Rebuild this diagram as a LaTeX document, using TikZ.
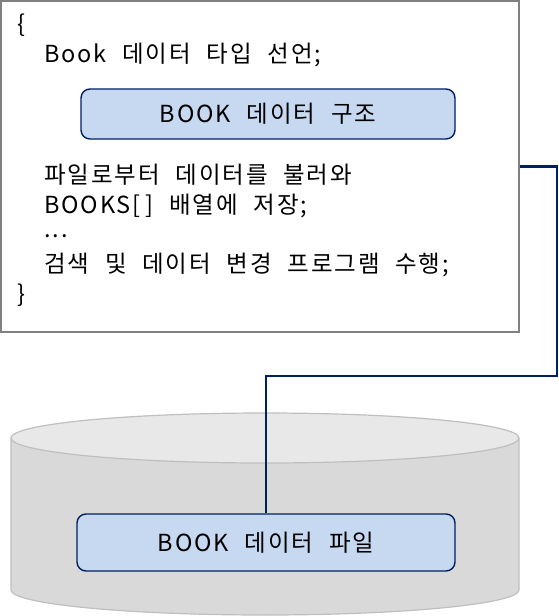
\documentclass[tikz,border=0pt]{standalone}
\usepackage{fontspec}
\setmainfont{Noto Sans CJK KR}[LetterSpace=8, WordSpace=2.2]
\usetikzlibrary{positioning}

\definecolor{navy}{HTML}{002060}
\definecolor{boxblue}{HTML}{C6D9F0}
\definecolor{framegray}{HTML}{808080}

\begin{document}
\begin{tikzpicture}[x=1pt, y=-1pt,
    codebox/.style = {draw=framegray, line width=1.8pt, fill=white, minimum width=518pt, minimum height=331pt, inner sep=0pt},
    databox/.style = {draw=navy, line width=1.4pt, fill=boxblue, rounded corners=9pt, inner sep=0pt},
    line/.style = {anchor=west, inner sep=0pt, font=\fontsize{23.5}{26}\selectfont},
    link/.style = {draw=navy, line width=2.6pt}]
        \useasboundingbox (0,0) rectangle (559,616);

        % disk
        \fill[gray!30] (11,438) -- (11,590) arc[start angle=180, end angle=0, x radius=254, y radius=25] -- (519,438) -- cycle;
        \draw[gray!50, line width=1.2pt] (11,438) -- (11,590) arc[start angle=180, end angle=0, x radius=254, y radius=25] -- (519,438);
        \draw[gray!50, line width=1.2pt, fill=gray!18] (265,438) ellipse[x radius=254, y radius=25];

        % program
        \node[codebox] (code) at (260,166.5) {};
        \node[line] (open) at (17,25) {\{};
        \node[line] (decl) at (44,55) {Book 데이터 타입 선언;};
        \node[databox, minimum width=374pt, minimum height=50pt, font=\fontsize{23.5}{26}\selectfont] (struct) at (268,114) {BOOK 데이터 구조};
        \node[line] (load) at (44,175) {파일로부터 데이터를 불러와};
        \node[line] (store) at (44,206) {BOOKS[\hspace{5pt}] 배열에 저장;};
        \node[line] (dots) at (44,236) {...};
        \node[line] (run) at (44,265) {검색 및 데이터 변경 프로그램 수행;};
        \node[line] (close) at (17,295) {\}};

        % file
        \node[databox, minimum width=378pt, minimum height=57pt, font=\fontsize{23.5}{26}\selectfont] (file) at (266,542.5) {BOOK 데이터 파일};

        \coordinate (bend) at (557,376);
        \draw[link] (code.east) -| (bend) -| (file.north);
    \end{tikzpicture}
\end{document}
